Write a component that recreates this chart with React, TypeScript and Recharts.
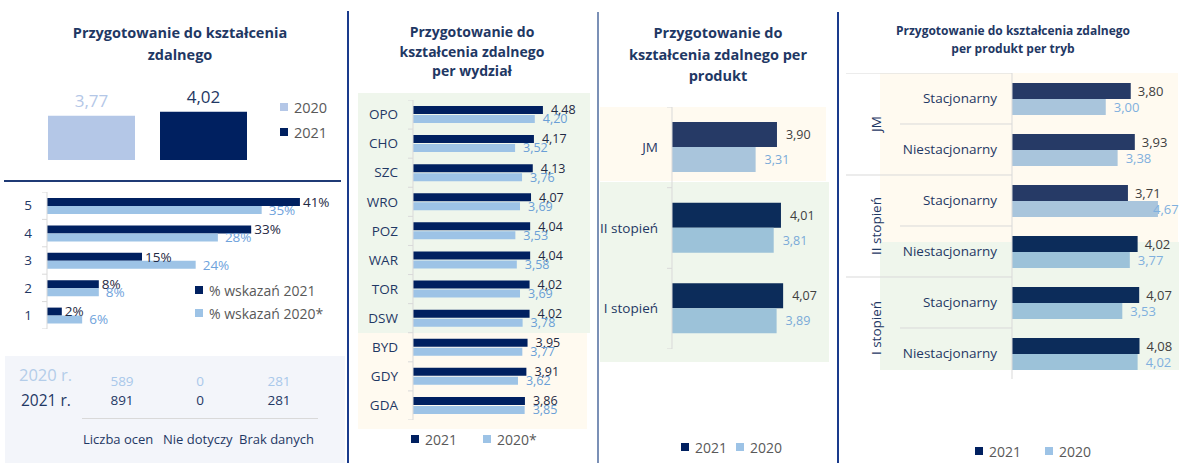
import React from 'react';
import { BarChart, Bar, XAxis, YAxis, Cell, LabelList } from 'recharts';

const FONT = '"Open Sans", "Noto Sans", sans-serif';
const NAVY = '#1f3864';
const GRID = '#d9d9d9';
const DARK = '#002060';
const LIGHT = '#9dc3e6';
const GREEN_BG = '#eff6ec';
const CREAM_BG = '#fffaf0';

// overall score
const overallYears = ['2020', '2021'];
const overallScores = [3.77, 4.02];

// share of grades (%)
const grades = ['5', '4', '3', '2', '1'];
const gradeShare2021 = [41, 33.1, 15.4, 8.4, 2.4];
const gradeShare2020 = [34.8, 27.7, 24.1, 8.4, 5.7];

// counts table
const countHeaders = ['Liczba ocen', 'Nie dotyczy', 'Brak danych'];
const counts2020 = [589, 0, 281];
const counts2021 = [891, 0, 281];

// per faculty
const faculties = ['OPO', 'CHO', 'SZC', 'WRO', 'POZ', 'WAR', 'TOR', 'DSW', 'BYD', 'GDY', 'GDA'];
const faculty2021 = [4.48, 4.17, 4.13, 4.07, 4.04, 4.04, 4.02, 4.02, 3.95, 3.91, 3.86];
const faculty2020 = [4.2, 3.52, 3.76, 3.69, 3.53, 3.58, 3.69, 3.78, 3.77, 3.62, 3.85];

// per product
const products = ['JM', 'II stopień', 'I stopień'];
const product2021 = [3.9, 4.01, 4.07];
const product2020 = [3.31, 3.81, 3.89];

// per product per mode
const productGroups = ['JM', 'II stopień', 'I stopień'];
const modes = ['Stacjonarny', 'Niestacjonarny', 'Stacjonarny', 'Niestacjonarny', 'Stacjonarny', 'Niestacjonarny'];
const mode2021 = [3.8, 3.93, 3.71, 4.02, 4.07, 4.08];
const mode2020 = [3.0, 3.38, 4.67, 3.77, 3.53, 4.02];

const pl = (v: number) => v.toFixed(2).replace('.', ',');
const pct = (v: number) => `${Math.round(v)}%`;

const rightLabel = (color: string, offset: number, fmt: (v: number) => string, size: number, maxX?: number) =>
  (p: any) => {
    const vb = p.viewBox ?? p;
    let x = Number(vb.x) + Number(vb.width) + offset;
    if (maxX !== undefined) x = Math.min(x, maxX);
    const y = Number(vb.y) + Number(vb.height) / 2;
    return (
      <text x={x} y={y} dy="0.35em" fill={color} fontSize={size} fontFamily={FONT}>
        {fmt(Number(p.value))}
      </text>
    );
  };

const bandTick = (axisX: number, band: number, count: number, gap: number, size: number) => (p: any) => {
  const y = Number(p.y);
  return (
    <g>
      <line x1={axisX - 5} x2={axisX} y1={y - band / 2} y2={y - band / 2} stroke={GRID} />
      {p.index === count - 1 && <line x1={axisX - 5} x2={axisX} y1={y + band / 2} y2={y + band / 2} stroke={GRID} />}
      <text x={axisX - gap} y={y} dy="0.35em" textAnchor="end" fill={NAVY} fontSize={size} fontFamily={FONT}>
        {p.payload.value}
      </text>
    </g>
  );
};

const Title = ({ lines, cx, top, size, lh }: { lines: string[]; cx: number; top: number; size: number; lh: number }) => (
  <div style={{ position: 'absolute', left: cx - 150, top, width: 300, textAlign: 'center', fontFamily: FONT, fontWeight: 700, fontSize: size, lineHeight: `${lh}px`, color: NAVY }}>
    {lines.map((l) => <div key={l}>{l}</div>)}
  </div>
);

const Key = ({ x, y, color, label, size }: { x: number; y: number; color: string; label: string; size: number }) => (
  <div style={{ position: 'absolute', left: x, top: y - 10, height: 20, display: 'flex', alignItems: 'center', fontFamily: FONT, fontSize: size, color: '#595959' }}>
    <span style={{ display: 'inline-block', width: 8, height: 8, background: color, marginRight: 6 }} />
    {label}
  </div>
);

const Box = ({ x, y, w, h, bg }: { x: number; y: number; w: number; h: number; bg: string }) => (
  <div style={{ position: 'absolute', left: x, top: y, width: w, height: h, background: bg }} />
);

export default function App() {
  const overallData = overallYears.map((year, i) => ({ year, score: overallScores[i] }));
  const gradeData = grades.map((g, i) => ({ g, y2021: gradeShare2021[i], y2020: gradeShare2020[i] }));
  const facultyData = faculties.map((f, i) => ({ f, y2021: faculty2021[i], y2020: faculty2020[i] }));
  const productData = products.map((p, i) => ({ p, y2021: product2021[i], y2020: product2020[i] }));
  const modeData = modes.map((m, i) => ({ m, y2021: mode2021[i], y2020: mode2020[i] }));

  const overallColors = ['#b4c7e7', DARK];
  const overallLabelColors = ['#b4c7e7', NAVY];
  const prodDark = ['#263a66', '#0c2c5a', '#0c2c5a'];
  const prodLight = ['#a9c5dc', '#9cc2d9', '#9cc2d9'];
  const modeDark = ['#263a66', '#263a66', '#263a66', '#0c2c5a', '#0c2c5a', '#0c2c5a'];
  const modeLight = ['#a9c5dc', '#a9c5dc', '#a9c5dc', '#9cc2d9', '#9cc2d9', '#9cc2d9'];

  const ROW4 = 51;
  const modeTick = (p: any) => {
    const y = Number(p.y);
    const i = p.index as number;
    const start = i % 2 === 0;
    return (
      <g>
        <line x1={start ? 0 : 54} x2={166} y1={y - ROW4 / 2} y2={y - ROW4 / 2} stroke={GRID} />
        {start && (
          <text x={30} y={y + ROW4 / 2} dy="0.35em" textAnchor="middle" fill={NAVY} fontSize={13.5} fontFamily={FONT}
            transform={`rotate(-90 30 ${y + ROW4 / 2})`}>
            {productGroups[i / 2]}
          </text>
        )}
        <text x={151} y={y} dy="0.35em" textAnchor="end" fill={NAVY} fontSize={13.5} fontFamily={FONT}>
          {p.payload.value}
        </text>
      </g>
    );
  };

  return (
    <div style={{ position: 'absolute', left: 0, top: 0, width: 1186, height: 463, background: '#fff', overflow: 'hidden' }}>
      {/* panel dividers */}
      <Box x={347} y={11} w={2} h={452} bg="#1a3b8c" />
      <Box x={597} y={12} w={2} h={451} bg="#7b90b6" />
      <Box x={837} y={12} w={2} h={451} bg="#1a3b8c" />
      <Box x={4} y={180} w={337} h={1.5} bg="#1f3a75" />

      {/* backgrounds */}
      <Box x={5} y={356} w={340} h={107} bg="#f3f5fa" />
      <Box x={358} y={93} w={232} h={240} bg={GREEN_BG} />
      <Box x={358} y={333} w={229} h={96} bg={CREAM_BG} />
      <Box x={600} y={107} w={226} h={74} bg={CREAM_BG} />
      <Box x={600} y={182} w={229} h={180} bg={GREEN_BG} />
      <Box x={880} y={73} w={298} h={169} bg={CREAM_BG} />
      <Box x={880} y={242} w={299} h={128} bg={GREEN_BG} />

      {/* panel 1 */}
      <Title lines={['Przygotowanie do kształcenia', 'zdalnego']} cx={180} top={22} size={14.5} lh={22} />
      <div style={{ position: 'absolute', left: 35, top: 76 }}>
        <BarChart width={224} height={84} data={overallData} margin={{ top: 20, right: 0, bottom: 0, left: 0 }}>
          <XAxis dataKey="year" hide />
          <YAxis hide domain={[1, 5]} />
          <Bar dataKey="score" barSize={87} isAnimationActive={false}>
            {overallData.map((d, i) => <Cell key={d.year} fill={overallColors[i]} />)}
            <LabelList dataKey="score" content={(p: any) => {
              const vb = p.viewBox ?? p;
              const idx = p.index ?? overallScores.indexOf(Number(p.value));
              return (
                <text x={Number(vb.x) + Number(vb.width) / 2} y={Number(vb.y) - 9} textAnchor="middle"
                  fill={overallLabelColors[idx]} fontSize={17} fontFamily={FONT}>{pl(Number(p.value))}</text>
              );
            }} />
          </Bar>
        </BarChart>
      </div>
      <Key x={280} y={107} color="#b4c7e7" label={overallYears[0]} size={14.5} />
      <Key x={280} y={132} color={DARK} label={overallYears[1]} size={14.5} />

      <div style={{ position: 'absolute', left: 0, top: 192 }}>
        <BarChart width={345} height={137} data={gradeData} layout="vertical" barGap={0}
          margin={{ top: 0, right: 20.4, bottom: 0, left: 0 }}>
          <XAxis type="number" hide domain={[0, 45]} />
          <YAxis type="category" dataKey="g" width={47} axisLine={{ stroke: GRID }} tickLine={false}
            tick={bandTick(47, 27.4, grades.length, 15, 13.5)} interval={0} />
          <Bar dataKey="y2021" fill={DARK} barSize={8} isAnimationActive={false}>
            <LabelList dataKey="y2021" content={rightLabel('#1f2a44', 3, pct, 13.5)} />
          </Bar>
          <Bar dataKey="y2020" fill={LIGHT} barSize={8} isAnimationActive={false}>
            <LabelList dataKey="y2020" content={rightLabel('#6fa3dc', 7, pct, 13.5)} />
          </Bar>
        </BarChart>
      </div>
      <Key x={195} y={290} color={DARK} label="% wskazań 2021" size={14} />
      <Key x={195} y={313} color={LIGHT} label="% wskazań 2020*" size={14} />

      {/* counts table */}
      <div style={{ position: 'absolute', left: 19, top: 363, fontFamily: FONT, fontSize: 16.5, color: '#b4cde9' }}>2020 r.</div>
      <div style={{ position: 'absolute', left: 21, top: 389, fontFamily: FONT, fontSize: 15.5, color: NAVY }}>2021 r.</div>
      {countHeaders.map((h, i) => (
        <React.Fragment key={h}>
          <div style={{ position: 'absolute', left: [122, 200, 279][i] - 30, width: 60, textAlign: 'center', top: 372, fontFamily: FONT, fontSize: 13.5, color: '#a9c8ea' }}>{counts2020[i]}</div>
          <div style={{ position: 'absolute', left: [122, 200, 279][i] - 30, width: 60, textAlign: 'center', top: 391, fontFamily: FONT, fontSize: 13.5, color: NAVY }}>{counts2021[i]}</div>
          <div style={{ position: 'absolute', left: [83, 163, 239][i], top: 430, fontFamily: FONT, fontSize: 13, color: NAVY, whiteSpace: 'nowrap' }}>{h}</div>
        </React.Fragment>
      ))}
      <Box x={82} y={418} w={236} h={1} bg={GRID} />

      {/* panel 2 */}
      <Title lines={['Przygotowanie do', 'kształcenia zdalnego', 'per wydział']} cx={472} top={22} size={14} lh={19.5} />
      <div style={{ position: 'absolute', left: 350, top: 100 }}>
        <BarChart width={240} height={320} data={facultyData} layout="vertical" barGap={1}
          margin={{ top: 0, right: 32, bottom: 0, left: 0 }}>
          <XAxis type="number" hide domain={[0, 5]} />
          <YAxis type="category" dataKey="f" width={63} axisLine={{ stroke: GRID }} tickLine={false}
            tick={bandTick(63, 320 / 11, faculties.length, 15, 13.5)} interval={0} />
          <Bar dataKey="y2021" fill={DARK} barSize={8} isAnimationActive={false}>
            <LabelList dataKey="y2021" content={rightLabel('#1f2a44', 8, pl, 12.5)} />
          </Bar>
          <Bar dataKey="y2020" fill={LIGHT} barSize={8} isAnimationActive={false}>
            <LabelList dataKey="y2020" content={rightLabel('#6a9fd6', 8, pl, 12.5)} />
          </Bar>
        </BarChart>
      </div>
      <Key x={411} y={439} color={DARK} label="2021" size={14} />
      <Key x={483} y={439} color={LIGHT} label="2020*" size={14} />

      {/* panel 3 */}
      <Title lines={['Przygotowanie do', 'kształcenia zdalnego per', 'produkt']} cx={718} top={22} size={14.5} lh={21.5} />
      <div style={{ position: 'absolute', left: 600, top: 107 }}>
        <BarChart width={229} height={242} data={productData} layout="vertical" barGap={0}
          margin={{ top: 0, right: 12.2, bottom: 0, left: 0 }}>
          <XAxis type="number" hide domain={[1, 5]} />
          <YAxis type="category" dataKey="p" width={72} axisLine={{ stroke: GRID }} tickLine={false}
            tick={bandTick(72, 242 / 3, products.length, 14, 13.5)} interval={0} />
          <Bar dataKey="y2021" barSize={25} isAnimationActive={false}>
            {productData.map((d, i) => <Cell key={d.p} fill={prodDark[i]} />)}
            <LabelList dataKey="y2021" content={rightLabel('#404040', 9, pl, 12.5)} />
          </Bar>
          <Bar dataKey="y2020" barSize={25} isAnimationActive={false}>
            {productData.map((d, i) => <Cell key={d.p} fill={prodLight[i]} />)}
            <LabelList dataKey="y2020" content={rightLabel('#7aaad8', 9, pl, 12.5)} />
          </Bar>
        </BarChart>
      </div>
      <Key x={681} y={447} color={DARK} label="2021" size={14} />
      <Key x={736} y={447} color={LIGHT} label="2020" size={14} />

      {/* panel 4 */}
      <Title lines={['Przygotowanie do kształcenia zdalnego', 'per produkt per tryb']} cx={1013} top={22} size={12} lh={18} />
      <div style={{ position: 'absolute', left: 846, top: 73 }}>
        <BarChart width={340} height={306} data={modeData} layout="vertical" barGap={0}
          margin={{ top: 0, right: 17.75, bottom: 0, left: 0 }}>
          <XAxis type="number" hide domain={[0, 5]} />
          <YAxis type="category" dataKey="m" width={166} axisLine={{ stroke: GRID }} tickLine={false}
            tick={modeTick} interval={0} />
          <Bar dataKey="y2021" barSize={16} isAnimationActive={false}>
            {modeData.map((d, i) => <Cell key={i} fill={modeDark[i]} />)}
            <LabelList dataKey="y2021" content={rightLabel('#404040', 7, pl, 13)} />
          </Bar>
          <Bar dataKey="y2020" barSize={16} isAnimationActive={false}>
            {modeData.map((d, i) => <Cell key={i} fill={modeLight[i]} />)}
            <LabelList dataKey="y2020" content={rightLabel('#7fb0de', 8, pl, 13, 307)} />
          </Bar>
        </BarChart>
      </div>
      <Key x={975} y={451} color={DARK} label="2021" size={14} />
      <Key x={1045} y={451} color={LIGHT} label="2020" size={14} />
    </div>
  );
}
